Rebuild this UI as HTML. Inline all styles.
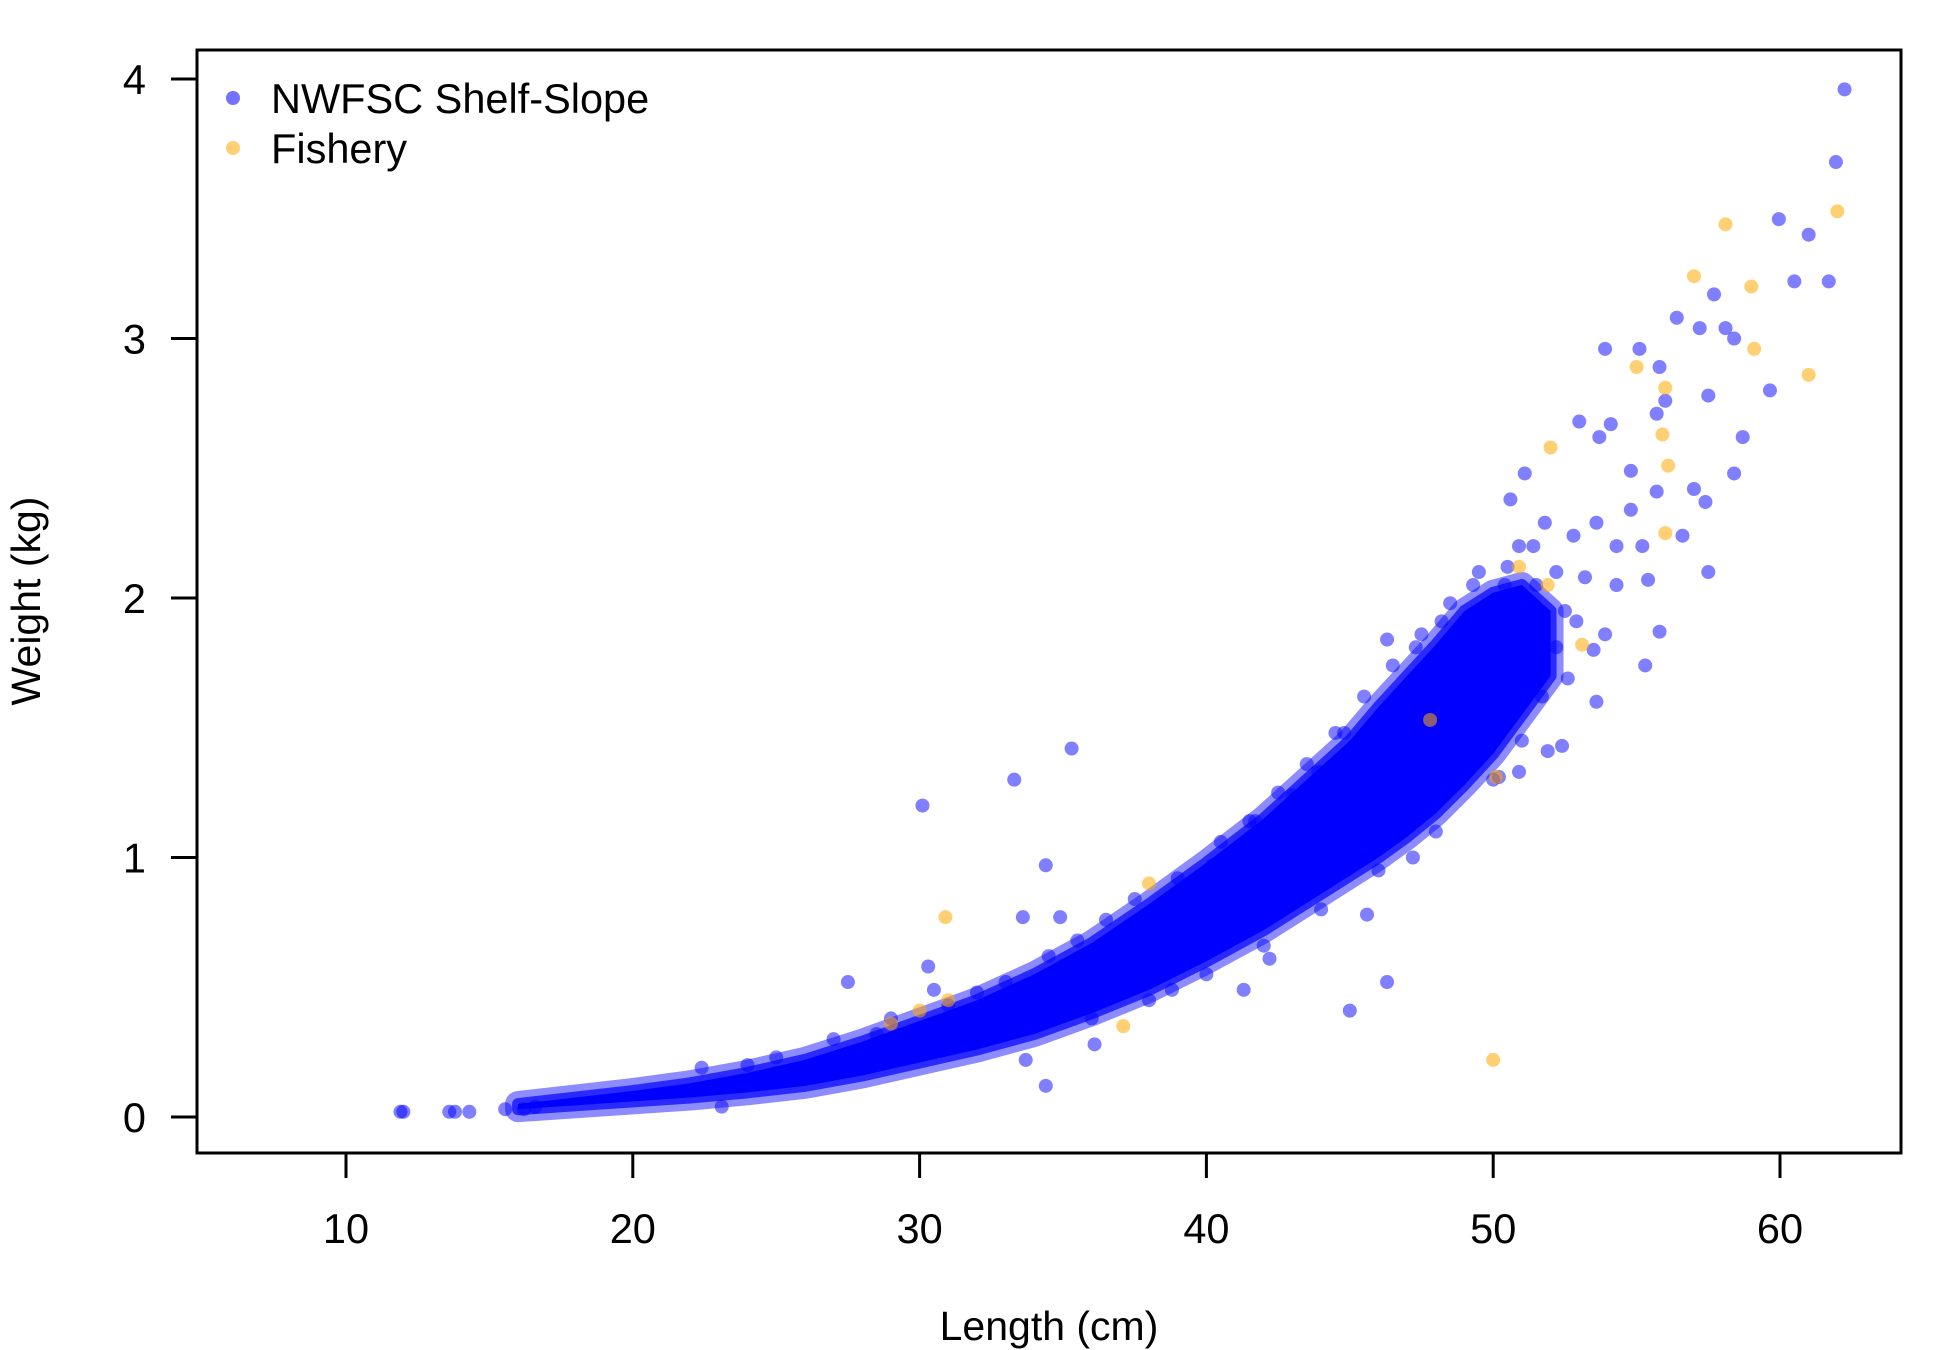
<!DOCTYPE html>
<html><head><meta charset="utf-8">
<style>
html,body{margin:0;padding:0;background:#fff;}
svg{display:block;font-family:"Liberation Sans",Arial,sans-serif;}
</style></head>
<body>
<svg id="chart" width="1950" height="1350" viewBox="0 0 1950 1350">
  <rect x="0" y="0" width="1950" height="1350" fill="#fff"/>
  <g id="marks"></g>
  <rect x="197" y="50" width="1704" height="1103" fill="none" stroke="#000" stroke-width="3"/>
  <g id="xaxis"></g>
  <g id="yaxis"></g>
  <text x="1049" y="1340" font-size="41" text-anchor="middle">Length (cm)</text>
  <text x="40" y="601" font-size="41" text-anchor="middle" transform="rotate(-90 40 601)">Weight (kg)</text>
  <g>
    <circle cx="233" cy="98" r="7" fill="rgba(0,0,255,0.55)"/>
    <text x="271" y="113" font-size="41.5">NWFSC Shelf-Slope</text>
    <circle cx="233" cy="148" r="7" fill="rgba(255,170,0,0.55)"/>
    <text x="271" y="163" font-size="41.5">Fishery</text>
  </g>
</svg>
<script>
const xTicks = [10,20,30,40,50,60];
const yTicks = [0,1,2,3,4];
// dense core band of survey data (length, lower weight, upper weight)
const bandLen = [16,18,20,22,24,26,28,30,32,34,36,38,40,42,44,45,46,47,48,49,50,51,52];
const bandLo  = [0.03,0.045,0.06,0.075,0.095,0.12,0.16,0.21,0.26,0.32,0.40,0.49,0.60,0.72,0.86,0.93,1.00,1.08,1.17,1.28,1.40,1.55,1.70];
const bandHi  = [0.05,0.075,0.10,0.13,0.17,0.22,0.29,0.37,0.45,0.55,0.67,0.82,0.98,1.15,1.35,1.45,1.58,1.70,1.82,1.95,2.02,2.05,1.95];
// scattered survey points
const surveyLen = [62.25,61.95,59.96,61.0,60.5,61.7,59.65,58.7,57.7,57.2,58.1,58.4,56.4,55.1,53.9,55.8,56.0,57.5,55.7,54.1,53.0,53.7,54.8,57.0,58.4,57.4,56.6,55.4,55.8,57.5,55.3,53.6,52.2,51.9,51.1,50.6,52.9,49.3,53.9,54.3,52.8,51.8,51.4,53.2,52.6,52.2,53.6,54.8,55.7,54.3,55.2,49.9,47.2,46.3,45.0,45.6,46.7,46.3,48.4,49.1,50.2,47.4,41.3,42.2,38.8,35.3,33.3,30.1,34.4,34.9,33.6,30.3,27.5,34.4,33.7,36.1,30.5,28.5,22.4,12.0,11.9,13.6,13.8,14.3,15.55,16.2,16.6,23.1,39.6,40.2,43.0,43.9,41.7,38.3,37.0,44.8,42.6,50.4,50.9,49.8,48.7,51.7,52.4,50.9,47.8,47.3,48.2,
  36.5,37.5,39.0,40.5,41.5,42.5,43.5,44.5,45.5,46.5,47.5,48.5,49.5,50.5,51.5,52.5,53.5,36.0,38.0,40.0,42.0,44.0,46.0,48.0,50.0,51.0,32.0,33.0,34.5,35.5,29.0,31.0,27.0,25.0,24.0];
const surveyWt  = [3.96,3.68,3.46,3.40,3.22,3.22,2.80,2.62,3.17,3.04,3.04,3.00,3.08,2.96,2.96,2.89,2.76,2.78,2.71,2.67,2.68,2.62,2.49,2.42,2.48,2.37,2.24,2.07,1.87,2.10,1.74,1.60,2.10,1.41,2.48,2.38,1.91,2.05,1.86,2.20,2.24,2.29,2.20,2.08,1.69,1.81,2.29,2.34,2.41,2.05,2.20,1.88,1.00,0.52,0.41,0.78,1.14,1.84,1.29,1.53,1.31,1.19,0.49,0.61,0.49,1.42,1.30,1.20,0.97,0.77,0.77,0.58,0.52,0.12,0.22,0.28,0.49,0.32,0.19,0.02,0.02,0.02,0.02,0.02,0.03,0.03,0.04,0.04,0.90,0.97,1.24,1.33,1.14,0.81,0.66,1.48,0.95,2.05,2.20,1.62,1.43,1.62,1.43,1.33,1.69,1.81,1.91,
  0.76,0.84,0.92,1.06,1.14,1.25,1.36,1.48,1.62,1.74,1.86,1.98,2.10,2.12,2.05,1.95,1.80,0.38,0.45,0.55,0.66,0.80,0.95,1.10,1.30,1.45,0.48,0.52,0.62,0.68,0.38,0.43,0.30,0.23,0.20];
// fishery points
const fishLen = [62.0,58.1,57.0,59.0,59.1,61.0,55.0,56.0,55.9,56.1,56.0,52.0,50.0,50.1,30.9,38.0,37.1,30.0,31.0,29.0,47.8,51.9,53.1,50.9];
const fishWt  = [3.49,3.44,3.24,3.20,2.96,2.86,2.89,2.81,2.63,2.51,2.25,2.58,0.22,1.31,0.77,0.90,0.35,0.41,0.45,0.36,1.53,2.05,1.82,2.12];

const NS = "http://www.w3.org/2000/svg";
function xs(v){ return 346 + (v-10)*28.68; }
function ys(v){ return 1117 - v*259.5; }
function mk(tag, attrs, parent){
  const e = document.createElementNS(NS, tag);
  for (const k in attrs) e.setAttribute(k, attrs[k]);
  parent.appendChild(e);
  return e;
}
const marks = document.getElementById('marks');
let pts = [];
for (let i=0;i<bandLen.length;i++) pts.push(xs(bandLen[i])+','+ys(bandHi[i]));
for (let i=bandLen.length-1;i>=0;i--) pts.push(xs(bandLen[i])+','+ys(bandLo[i]));
const halo = mk('polygon', {points: pts.join(' '), fill:'none', stroke:'rgba(0,0,255,0.45)', 'stroke-width':26, 'stroke-linejoin':'round'}, marks);


const band = mk('polygon', {points: pts.join(' '), fill:'rgb(0,0,255)', stroke:'rgba(0,0,255,0.7)', 'stroke-width':12, 'stroke-linejoin':'round'}, marks);


for (let i=0;i<surveyLen.length;i++){
  const c = mk('circle', {cx: xs(surveyLen[i]), cy: ys(surveyWt[i]), r: 7, fill:'rgba(0,0,255,0.5)'}, marks);
  
  
}
for (let i=0;i<fishLen.length;i++){
  const c = mk('circle', {cx: xs(fishLen[i]), cy: ys(fishWt[i]), r: 7, fill:'rgba(255,170,0,0.55)'}, marks);
  
  
}
const xa = document.getElementById('xaxis');
for (const t of xTicks){
  const l = mk('line', {x1: xs(t), x2: xs(t), y1: 1153, y2: 1178, stroke:'#000', 'stroke-width':3}, xa);
  
  
  const tx = mk('text', {x: xs(t), y: 1243, 'font-size':41.5, 'text-anchor':'middle'}, xa);
  tx.textContent = t;
  
  
}
const ya = document.getElementById('yaxis');
for (const t of yTicks){
  const l = mk('line', {x1: 171, x2: 197, y1: ys(t), y2: ys(t), stroke:'#000', 'stroke-width':3}, ya);
  
  
  const tx = mk('text', {x: 146, y: ys(t)+15, 'font-size':41.5, 'text-anchor':'end'}, ya);
  tx.textContent = t;
  
  
}
</script>
</body></html>
